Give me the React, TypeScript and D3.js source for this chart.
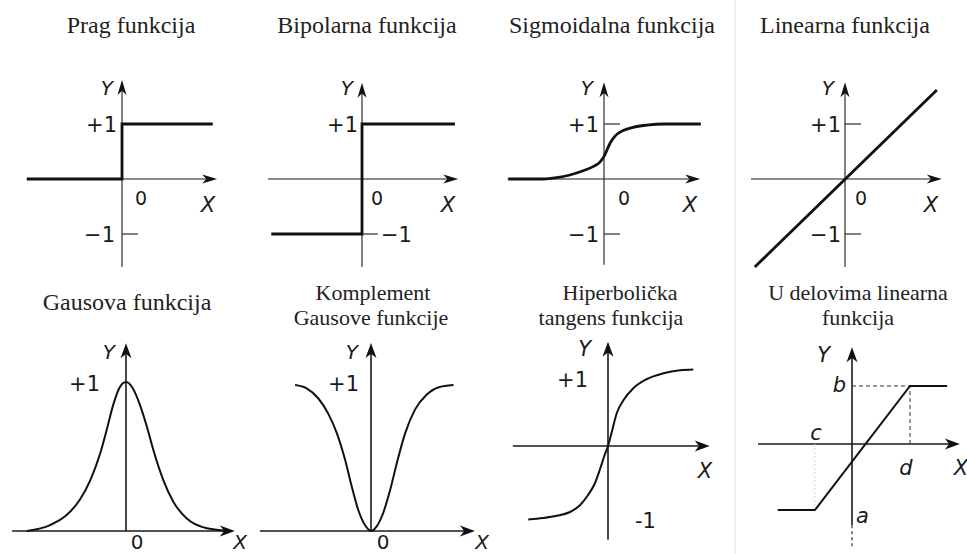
import React from "react";
import * as d3 from "d3";

type Pt = [number, number];

const W = 967;
const H = 554;

// ---- titles ----
const topTitles = ["Prag funkcija", "Bipolarna funkcija", "Sigmoidalna funkcija", "Linearna funkcija"];
const bottomTitles: string[][] = [
  ["Gausova funkcija"],
  ["Komplement", "Gausove funkcije"],
  ["Hiperbolička", "tangens funkcija"],
  ["U delovima linearna", "funkcija"],
];

// ---- tick labels ----
const topTickValues = [1, -1];
const topTickLabels = ["+1", "−1"];

// ---- curves (x, y) in axis units ----
const pragPoints: Pt[] = [[-1.73, 0], [0, 0], [0, 1], [1.65, 1]];
const bipolarPoints: Pt[] = [[-1.65, -1], [0, -1], [0, 1], [1.69, 1]];
const sigmoidPoints: Pt[] = [
  [-1.74, 0], [-1.1, 0], [-0.86, 0.024], [-0.62, 0.073], [-0.38, 0.15], [-0.19, 0.23],
  [-0.07, 0.31], [0, 0.41], [0.05, 0.52], [0.11, 0.65], [0.2, 0.78], [0.35, 0.88],
  [0.53, 0.94], [0.78, 0.98], [1.08, 1], [1.76, 1],
];
const linearPoints: Pt[] = [[-1.64, -1.6], [1.67, 1.62]];
const gaussPoints: Pt[] = [
  [-1.8, 0], [-1.38, 0.04], [-1.08, 0.107], [-0.84, 0.21], [-0.65, 0.34], [-0.47, 0.52],
  [-0.35, 0.68], [-0.23, 0.85], [-0.12, 0.96], [0, 1], [0.12, 0.96], [0.25, 0.85],
  [0.38, 0.7], [0.5, 0.54], [0.68, 0.34], [0.86, 0.197], [1.1, 0.085], [1.47, 0.018], [1.89, 0],
];
const gaussComplementPoints: Pt[] = [
  [-1.38, 0.986], [-1.17, 0.964], [-0.96, 0.897], [-0.78, 0.795], [-0.62, 0.66], [-0.47, 0.48],
  [-0.35, 0.3], [-0.23, 0.14], [-0.11, 0.04], [0, 0], [0.1, 0.03], [0.22, 0.12],
  [0.35, 0.28], [0.47, 0.46], [0.62, 0.66], [0.8, 0.82], [1.01, 0.92], [1.22, 0.97], [1.5, 0.986],
];
const tanhPoints: Pt[] = [
  [-1.45, -0.98], [-1.18, -0.96], [-0.93, -0.93], [-0.69, -0.88], [-0.51, -0.79], [-0.36, -0.65],
  [-0.24, -0.5], [-0.15, -0.32], [-0.07, -0.14], [0, 0], [0.07, 0.19], [0.16, 0.44],
  [0.28, 0.61], [0.46, 0.77], [0.7, 0.89], [1.01, 0.97], [1.31, 1.01], [1.55, 1.02],
];
const piecewisePoints: Pt[] = [[-1.28, -1.14], [-0.64, -1.14], [1, 1], [1.64, 1]];
const piecewiseGuide: Pt[] = [[0, 1], [1, 1], [1, 0]];
const piecewiseDrop: Pt[] = [[-0.64, 0], [-0.64, -1.14]];

// ---- layout ----
const SANS = "'DejaVu Sans', Verdana, sans-serif";
const SERIF = "'Liberation Serif', 'Times New Roman', serif";

interface Label { text: string; dx: number; dy: number; anchor?: "start" | "middle" | "end"; italic?: boolean; size?: number; }
interface Curve { points: Pt[]; width: number; smooth?: boolean; }
interface PanelSpec {
  ox: number; oy: number; ux: number; uy: number;
  xExt: [number, number]; yExt: [number, number];
  curves: Curve[];
  ticks?: boolean;
  labels: Label[];
  arrowL: number; arrowW: number; axisW: number;
}

function arrowRight(x: number, y: number, L: number, hw: number) {
  return `M${x},${y}L${x - L},${y - hw}L${x - L * 0.72},${y}L${x - L},${y + hw}Z`;
}
function arrowUp(x: number, y: number, L: number, hw: number) {
  return `M${x},${y}L${x - hw},${y + L}L${x},${y + L * 0.72}L${x + hw},${y + L}Z`;
}

function Panel({ spec, children }: { spec: PanelSpec; children?: (x: d3.ScaleLinear<number, number>, y: d3.ScaleLinear<number, number>) => React.ReactNode }) {
  const { ox, oy, ux, uy } = spec;
  const x = d3.scaleLinear().domain([0, 1]).range([ox, ox + ux]);
  const y = d3.scaleLinear().domain([0, 1]).range([oy, oy - uy]);
  const lineSharp = d3.line<Pt>().x((d) => x(d[0])).y((d) => y(d[1]));
  const lineSmooth = d3.line<Pt>().x((d) => x(d[0])).y((d) => y(d[1])).curve(d3.curveMonotoneX);
  const x0 = x(spec.xExt[0]);
  const x1 = x(spec.xExt[1]);
  const y0 = y(spec.yExt[0]);
  const y1 = y(spec.yExt[1]);
  const stroke = "#1a1a1a";
  return (
    <g>
      {/* axes */}
      <line x1={x0} y1={oy} x2={x1 - spec.arrowL * 0.6} y2={oy} stroke={stroke} strokeWidth={spec.axisW} />
      <line x1={ox} y1={y0} x2={ox} y2={y1 + spec.arrowL * 0.6} stroke={stroke} strokeWidth={spec.axisW} />
      <path d={arrowRight(x1, oy, spec.arrowL, spec.arrowW)} fill="#111" />
      <path d={arrowUp(ox, y1, spec.arrowL, spec.arrowW)} fill="#111" />
      {spec.ticks &&
        topTickValues.map((v) => (
          <line key={v} x1={ox} x2={ox + 16} y1={y(v)} y2={y(v)} stroke={stroke} strokeWidth={spec.axisW} />
        ))}
      {children && children(x, y)}
      {spec.curves.map((c, i) => (
        <path
          key={i}
          d={(c.smooth ? lineSmooth : lineSharp)(c.points) || ""}
          fill="none"
          stroke="#111"
          strokeWidth={c.width}
          strokeLinejoin="miter"
        />
      ))}
      {spec.labels.map((l, i) => (
        <text
          key={i}
          x={ox + l.dx}
          y={oy + l.dy}
          textAnchor={l.anchor || "start"}
          fontFamily={SANS}
          fontSize={l.size || 21}
          fontStyle={l.italic ? "italic" : "normal"}
          fill="#1a1a1a"
        >
          {l.text}
        </text>
      ))}
    </g>
  );
}

const TOP = { ux: 55, uy: 55, arrowL: 15, arrowW: 4.5, axisW: 1.1, ticks: true };
const BOT = { arrowL: 15, arrowW: 5.5, axisW: 1.6 };

const panels: PanelSpec[] = [
  {
    ...TOP, ox: 122, oy: 179, xExt: [-1.73, 1.73], yExt: [-1.6, 1.8],
    curves: [{ points: pragPoints, width: 2.8 }],
    labels: [
      { text: "Y", dx: -9, dy: -84, anchor: "end", italic: true, size: 20 },
      { text: topTickLabels[0], dx: -5, dy: -47, anchor: "end" },
      { text: "0", dx: 13, dy: 26, size: 19 },
      { text: "X", dx: 86, dy: 33, anchor: "middle", italic: true },
      { text: topTickLabels[1], dx: -7, dy: 63, anchor: "end" },
    ],
  },
  {
    ...TOP, ox: 362, oy: 179, xExt: [-1.71, 1.75], yExt: [-1.6, 1.75],
    curves: [{ points: bipolarPoints, width: 2.8 }],
    labels: [
      { text: "Y", dx: -9, dy: -84, anchor: "end", italic: true, size: 20 },
      { text: topTickLabels[0], dx: -4, dy: -47, anchor: "end" },
      { text: "0", dx: 9, dy: 26, size: 19 },
      { text: "X", dx: 86, dy: 33, anchor: "middle", italic: true },
      { text: topTickLabels[1], dx: 19, dy: 63 },
    ],
  },
  {
    ...TOP, ox: 604, oy: 179, xExt: [-1.75, 1.75], yExt: [-1.56, 1.76],
    curves: [{ points: sigmoidPoints, width: 2.8, smooth: true }],
    labels: [
      { text: "Y", dx: -11, dy: -84, anchor: "end", italic: true, size: 20 },
      { text: topTickLabels[0], dx: -5, dy: -47, anchor: "end" },
      { text: "0", dx: 14, dy: 26, size: 19 },
      { text: "X", dx: 86, dy: 33, anchor: "middle", italic: true },
      { text: topTickLabels[1], dx: -5, dy: 63, anchor: "end" },
    ],
  },
  {
    ...TOP, ox: 845, oy: 179, xExt: [-1.71, 1.76], yExt: [-1.6, 1.76],
    curves: [{ points: linearPoints, width: 2.8 }],
    labels: [
      { text: "Y", dx: -11, dy: -84, anchor: "end", italic: true, size: 20 },
      { text: topTickLabels[0], dx: -4, dy: -47, anchor: "end" },
      { text: "0", dx: 10, dy: 26, size: 19 },
      { text: "X", dx: 86, dy: 33, anchor: "middle", italic: true },
      { text: topTickLabels[1], dx: -4, dy: 63, anchor: "end" },
    ],
  },
  {
    ...BOT, ox: 126, oy: 531, ux: 55, uy: 149, xExt: [-2.07, 1.98], yExt: [0, 1.26],
    curves: [{ points: gaussPoints, width: 2, smooth: true }],
    labels: [
      { text: "Y", dx: -11, dy: -172, anchor: "end", italic: true, size: 20 },
      { text: "+1", dx: -26, dy: -140, anchor: "end" },
      { text: "0", dx: 11, dy: 18, anchor: "middle", size: 20 },
      { text: "X", dx: 114, dy: 18, anchor: "middle", italic: true, size: 20 },
    ],
  },
  {
    ...BOT, ox: 371, oy: 531, ux: 55, uy: 148, xExt: [-2.02, 1.89], yExt: [0, 1.27],
    curves: [{ points: gaussComplementPoints, width: 2, smooth: true }],
    labels: [
      { text: "Y", dx: -13, dy: -172, anchor: "end", italic: true, size: 20 },
      { text: "+1", dx: -12, dy: -140, anchor: "end" },
      { text: "0", dx: 12, dy: 18, anchor: "middle", size: 20 },
      { text: "X", dx: 111, dy: 18, anchor: "middle", italic: true, size: 20 },
    ],
  },
  {
    ...BOT, ox: 608, oy: 446, ux: 55, uy: 75, xExt: [-1.73, 1.85], yExt: [-1.25, 1.39],
    curves: [{ points: tanhPoints, width: 2, smooth: true }],
    labels: [
      { text: "Y", dx: -17, dy: -90, anchor: "end", italic: true },
      { text: "+1", dx: -20, dy: -59, anchor: "end", size: 21 },
      { text: "-1", dx: 27, dy: 82, size: 21 },
      { text: "X", dx: 97, dy: 32, anchor: "middle", italic: true },
    ],
  },
  {
    ...BOT, ox: 852, oy: 444, ux: 58, uy: 58, xExt: [-1.62, 1.86], yExt: [-1.4, 1.67],
    curves: [{ points: piecewisePoints, width: 2 }],
    labels: [
      { text: "Y", dx: -22, dy: -82, anchor: "end", italic: true },
      { text: "b", dx: -6, dy: -52, anchor: "end", italic: true },
      { text: "c", dx: -36, dy: -4, anchor: "middle", italic: true },
      { text: "d", dx: 54, dy: 31, anchor: "middle", italic: true },
      { text: "X", dx: 109, dy: 31, anchor: "middle", italic: true },
      { text: "a", dx: 4, dy: 79, italic: true },
    ],
  },
];

export default function App() {
  const topCenters = [131, 367, 612, 845];
  const bottomCenters = [[127], [373, 371], [620, 611], [858, 858]];
  const guideLine = d3.line<Pt>();
  return (
    <div style={{ position: "fixed", left: 0, top: 0 }}>
      <svg width={W} height={H} viewBox={`0 0 ${W} ${H}`} style={{ display: "block", background: "#fff" }}>
        <rect width={W} height={H} fill="#fff" />
        {/* faint column divider */}
        <line x1={735} x2={735} y1={0} y2={H} stroke="#efefef" strokeWidth={2} />

        {topTitles.map((t, i) => (
          <text key={t} x={topCenters[i]} y={33} textAnchor="middle" fontFamily={SERIF} fontSize={24} fill="#222">
            {t}
          </text>
        ))}
        {bottomTitles.map((lines, i) =>
          lines.map((t, j) => (
            <text
              key={t}
              x={bottomCenters[i][j]}
              y={lines.length === 1 ? 310 : 300 + j * 25}
              textAnchor="middle"
              fontFamily={SERIF}
              fontSize={lines.length === 1 ? 24 : 22}
              fill="#222"
            >
              {t}
            </text>
          ))
        )}

        {panels.map((p, i) => (
          <Panel key={i} spec={p}>
            {i === 7
              ? (x, y) => (
                  <g>
                    <path
                      d={guideLine(piecewiseGuide.map((d) => [x(d[0]), y(d[1])] as Pt)) || ""}
                      fill="none"
                      stroke="#333"
                      strokeWidth={1}
                      strokeDasharray="4 3"
                    />
                    <path
                      d={guideLine(piecewiseDrop.map((d) => [x(d[0]), y(d[1])] as Pt)) || ""}
                      fill="none"
                      stroke="#d6d6d6"
                      strokeWidth={1}
                      strokeDasharray="2 2"
                    />
                    <line x1={x(0)} x2={x(0)} y1={y(-1.4)} y2={y(-1.78)} stroke="#333" strokeWidth={1.2} strokeDasharray="3 3" />
                  </g>
                )
              : undefined}
          </Panel>
        ))}
      </svg>
    </div>
  );
}
